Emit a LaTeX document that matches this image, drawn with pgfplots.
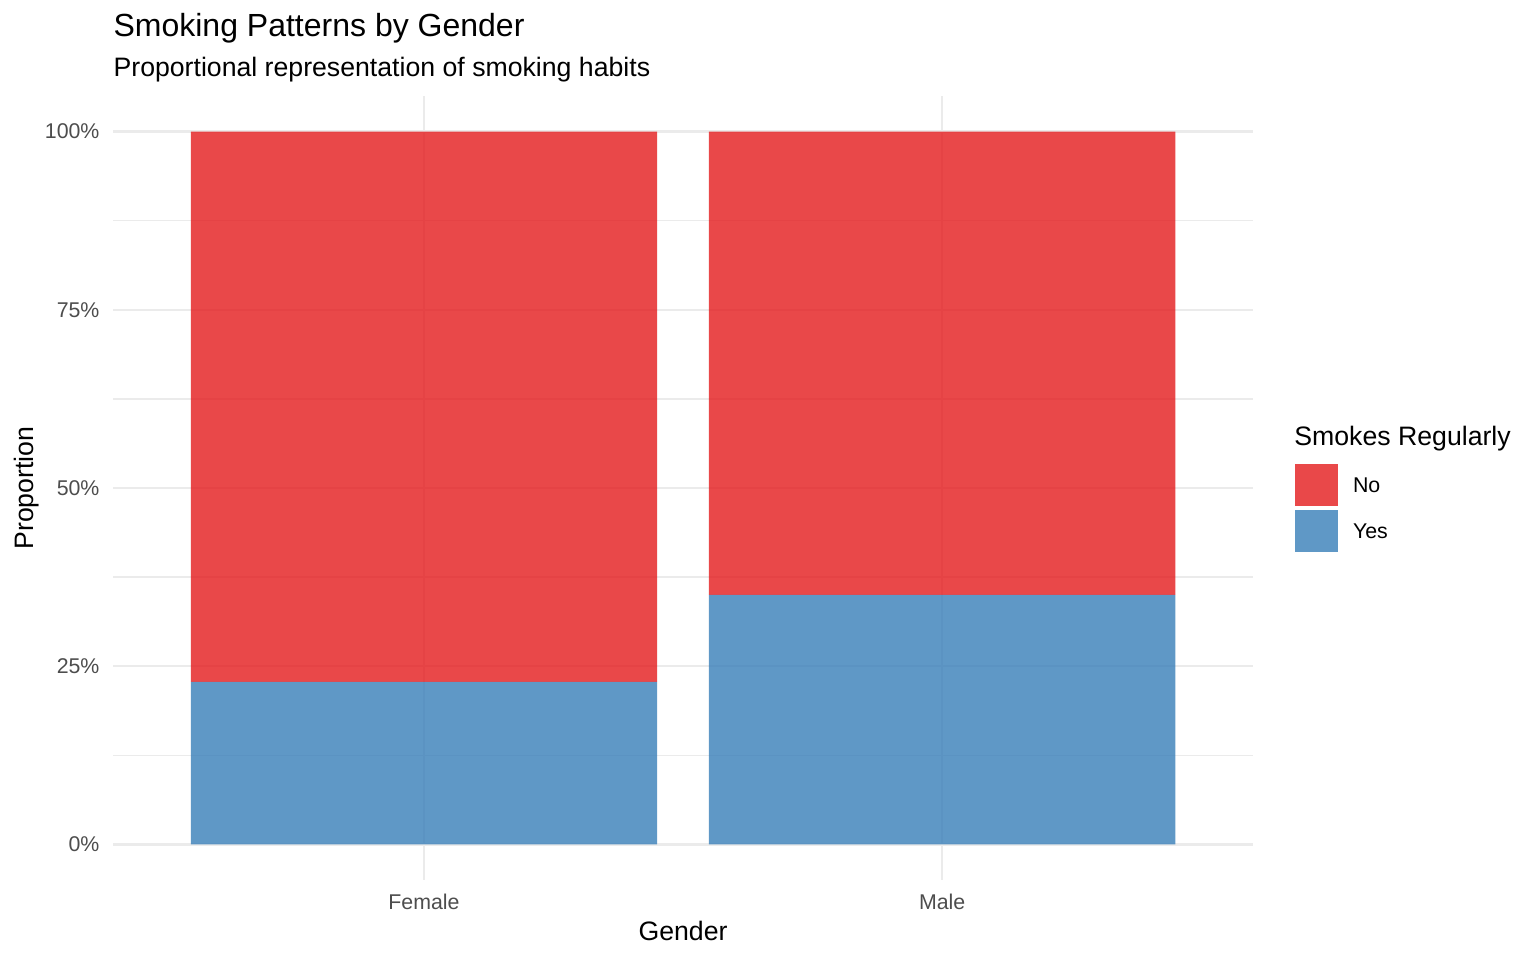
\documentclass[border=0pt]{standalone}
\usepackage{fontspec}
\setmainfont{Liberation Sans}
\usepackage{pgfplots}
\pgfplotsset{compat=1.18}

\definecolor{setred}{HTML}{E41A1C}
\definecolor{setblue}{HTML}{377EB8}
\definecolor{gridgrey}{HTML}{EBEBEB}
\definecolor{ticktext}{HTML}{4D4D4D}

\begin{document}
\begin{tikzpicture}
\useasboundingbox (0,0) rectangle (576pt,360pt);

\begin{axis}[
    at={(42.4pt,30pt)}, anchor=south west,
    scale only axis,
    width=427.5pt, height=294pt,
    xmin=0.4, xmax=2.6,
    ymin=-0.05, ymax=1.05,
    ybar stacked, bar width=0.9, bar shift=0pt,
    axis line style={draw=none},
    major tick length=0pt, minor tick length=0pt,
    xtick={1,2}, xticklabels={Female,Male},
    ytick={0,0.25,0.5,0.75,1},
    yticklabels={0\%,25\%,50\%,75\%,100\%},
    minor ytick={0.125,0.375,0.625,0.875},
    xmajorgrids, ymajorgrids, yminorgrids,
    major grid style={draw=gridgrey, line width=0.97pt},
    minor grid style={draw=gridgrey, line width=0.49pt},
    /pgf/number format/assume math mode=true,
    tick label style={font=\fontsize{8}{9.6}\selectfont, text=ticktext, inner sep=0pt},
    yticklabel style={anchor=east, xshift=-4.9pt},
    xticklabel style={anchor=base, yshift=-10.9pt},
    reverse legend,
    legend image code/.code={\fill[#1] (0pt,-5.2pt) rectangle (16.1pt,10.55pt);},
    legend style={at={(1.0367,0.5306)}, anchor=north west,
        draw=none, fill=none, inner sep=0pt, outer sep=0pt,
        row sep=1.5pt, column sep=5.7pt,
        font=\fontsize{8}{9.6}\selectfont,
        nodes={inner sep=0pt, anchor=base west}},
]
\addplot[fill=setblue, fill opacity=0.8, draw=none]
    coordinates {(1,0.228) (2,0.350)};
\addlegendentry{Yes}
\addplot[fill=setred, fill opacity=0.8, draw=none]
    coordinates {(1,0.772) (2,0.650)};
\addlegendentry{No}
\end{axis}

\node[anchor=base west, inner sep=0pt, font=\fontsize{12}{14.4}\selectfont]
    at (42.4pt,346.5pt) {Smoking Patterns by Gender};
\node[anchor=base west, inner sep=0pt, font=\fontsize{10}{12}\selectfont]
    at (42.4pt,331.5pt) {Proportional representation of smoking habits};
\node[anchor=base, inner sep=0pt, font=\fontsize{10}{12}\selectfont]
    at (256.15pt,7.5pt) {Gender};
\node[anchor=base, rotate=90, inner sep=0pt, font=\fontsize{10}{12}\selectfont]
    at (12.4pt,177pt) {Proportion};
\node[anchor=base west, inner sep=0pt, font=\fontsize{10}{12}\selectfont]
    at (485.2pt,193.1pt) {Smokes Regularly};
\end{tikzpicture}
\end{document}
